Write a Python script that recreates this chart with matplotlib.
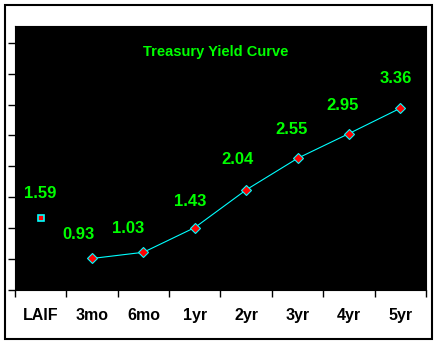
import matplotlib
matplotlib.use('Agg')
import matplotlib.pyplot as plt
from matplotlib.patches import Rectangle
import numpy as np

# Yield data
terms = ['LAIF', '3mo', '6mo', '1yr', '2yr', '3yr', '4yr', '5yr']
laif_yield = 1.59
treasury_yields = [0.93, 1.03, 1.43, 2.04, 2.55, 2.95, 3.36]

# label nudges in pixels (dx, dy)
label_offsets = [(0, 24), (-14, 24), (-15, 24), (-5, 26),
                 (-9, 30), (-6, 29), (-6, 28), (-4, 30)]

plt.rcParams['font.family'] = ['Liberation Sans', 'DejaVu Sans']

fig = plt.figure(figsize=(4.39, 3.43), dpi=100)
fig.patch.set_facecolor('white')
ax = fig.add_axes([15 / 439, 53 / 343, 411 / 439, 264 / 343])
ax.set_facecolor('black')

# outer frame
fig.patches.append(Rectangle((5 / 439, 4 / 343), 427 / 439, 334 / 343,
                             transform=fig.transFigure, fill=False,
                             edgecolor='black', linewidth=1.5))

x = np.arange(len(terms))
green = '#00FF00'

ax.plot(x[1:], treasury_yields, color='#00FFFF', linewidth=0.8,
        marker='D', markersize=5, markerfacecolor='#FF0000',
        markeredgecolor='#00FFFF', markeredgewidth=0.8)
ax.plot([x[0]], [laif_yield], linestyle='none', marker='s', markersize=5,
        markerfacecolor='#FF0000', markeredgecolor='#00FFFF',
        markeredgewidth=1.2)

all_yields = [laif_yield] + treasury_yields
for i, (v, off) in enumerate(zip(all_yields, label_offsets)):
    ax.annotate(f'{v:.2f}', (x[i], v), xytext=off, textcoords='offset pixels',
                ha='center', va='center', color=green, fontsize=12,
                fontweight='bold')

ax.text(0.489, 0.90, 'Treasury Yield Curve', transform=ax.transAxes,
        ha='center', va='center', color=green, fontsize=10.5,
        fontweight='bold')

ax.set_xlim(-0.5, len(terms) - 0.5)
ax.set_ylim(0.42, 4.69)

# category boundaries get the tick marks, centers get the labels
ax.set_xticks(np.arange(-0.5, len(terms), 1.0))
ax.set_xticklabels([])
ax.set_xticks(x, minor=True)
ax.set_xticklabels(terms, minor=True, fontsize=11.5, fontweight='bold')
ax.tick_params(axis='x', which='major', direction='out', length=5,
               width=1, color='black')
ax.tick_params(axis='x', which='minor', length=0, pad=13)

ax.set_yticks(np.arange(0.42, 4.5, 0.5))
ax.set_yticklabels([])
ax.tick_params(axis='y', direction='out', length=5, width=1, color='black')

for s in ax.spines.values():
    s.set_color('black')

fig.savefig('out.png', dpi=100, facecolor='white')
